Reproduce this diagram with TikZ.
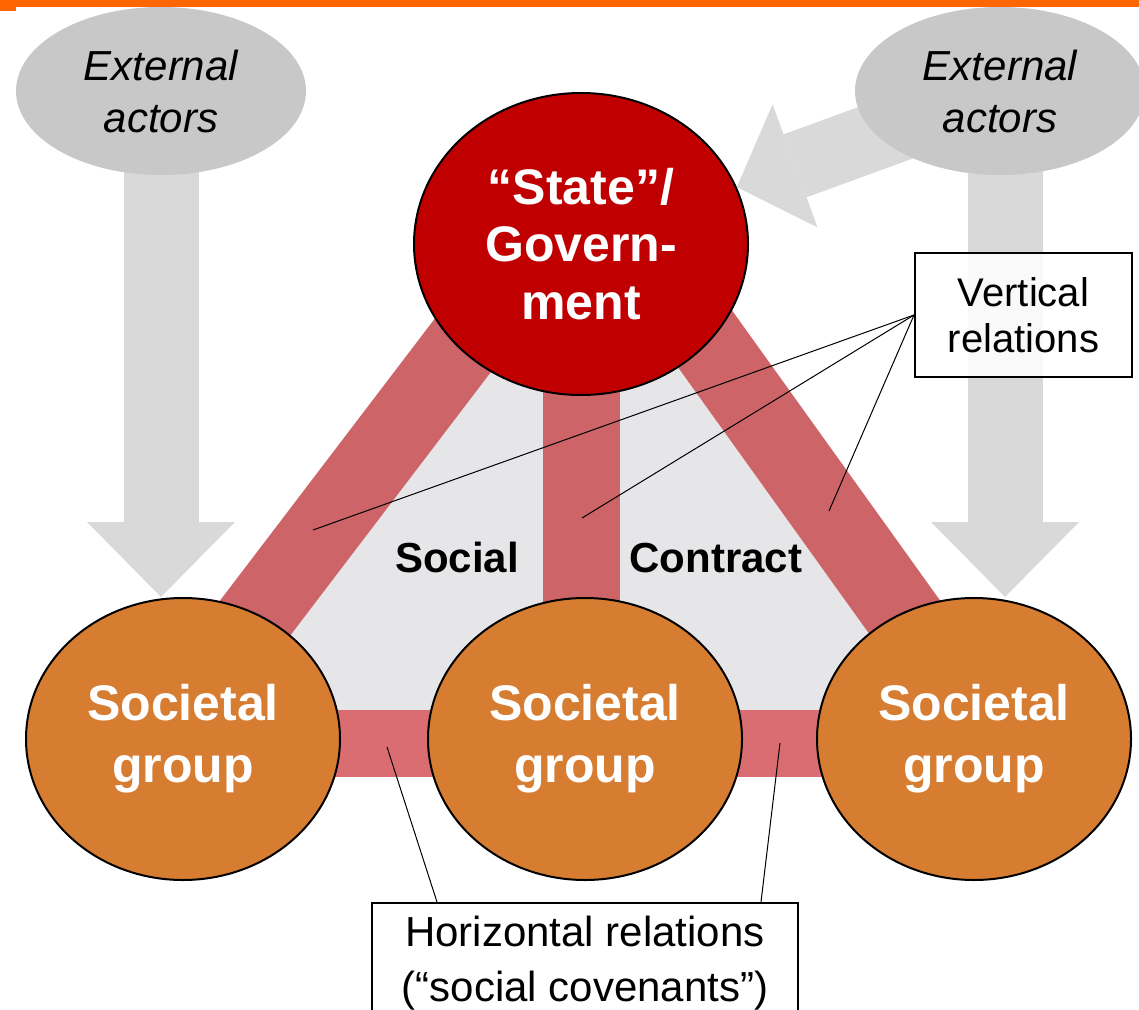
\documentclass[tikz,border=0pt]{standalone}
\usepackage{fontspec}
\setmainfont{Liberation Sans}
\usetikzlibrary{shapes.geometric,arrows.meta,calc}
\pgfdeclarelayer{background}
\pgfsetlayers{background,main}
\definecolor{stateRed}{HTML}{C00000}
\definecolor{groupOrange}{HTML}{D67D32}
\definecolor{bandRed}{HTML}{CD6467}
\definecolor{bandPink}{HTML}{DA6D72}
\definecolor{contractGray}{HTML}{E6E5E8}
\definecolor{actorGray}{HTML}{C8C8C8}
\definecolor{flowGray}{HTML}{D9D9D9}
\definecolor{topOrange}{HTML}{FF6600}

\begin{document}
\begin{tikzpicture}[x=0.5pt,y=-0.5pt]
\tikzstyle{extactor}=[ellipse, fill=actorGray, minimum width=145pt, minimum height=84pt, inner sep=0pt, align=center, font=\itshape\fontsize{21}{26}\selectfont]
\tikzstyle{govt}=[ellipse, draw=black, line width=1pt, fill=stateRed, text=white, minimum width=167pt, minimum height=151pt, inner sep=0pt, align=center, font=\bfseries\fontsize{25}{28.75}\selectfont]
\tikzstyle{group}=[ellipse, draw=black, line width=1pt, fill=groupOrange, text=white, minimum width=157pt, minimum height=141pt, inner sep=0pt, align=center, font=\bfseries\fontsize{25}{31}\selectfont]
\tikzstyle{note}=[draw=black, line width=1pt, fill=white, fill opacity=0.85, text opacity=1, inner sep=0pt, align=center]
\tikzstyle{band}=[draw=bandRed, line width=38.5pt]
\tikzstyle{hband}=[draw=bandPink, line width=33.5pt]
\tikzstyle{flow}=[draw=flowGray, line width=37.5pt, -{Triangle[width=74pt,length=37.5pt,line width=0pt]}]
\tikzstyle{callout}=[draw=black, line width=0.5pt]
\tikzstyle{word}=[anchor=base, font=\bfseries\fontsize{21}{25}\selectfont]

\useasboundingbox (0,0) rectangle (1139,1010);

% Define actors
\node[extactor] (ext1) at (161,91) {External\\actors};
\node[extactor] (ext2) at (1000,91) {External\\actors};
\node[govt] (gov) at (581,244) {“State”/\\Govern-\\ment};
\node[group] (grp1) at (183,739) {Societal\\group};
\node[group] (grp2) at (585,739) {Societal\\group};
\node[group] (grp3) at (974,739) {Societal\\group};

\node[word] (social) at (457,572) {Social};
\node[word] (contract) at (716,572) {Contract};

% Labels
\node[note, minimum width=108.5pt, minimum height=62pt, font=\fontsize{20}{23}\selectfont] (vrel) at (1023.5,315) {Vertical\\relations};
\node[note, minimum width=213pt, minimum height=60pt, font=\fontsize{21}{27.5}\selectfont] (hrel) at (585,963) {Horizontal relations\\(“social covenants”)};

\begin{pgfonlayer}{background}
% Social contract area
\fill[contractGray] ($(gov.center)+(-41,0)$) -- ($(gov.center)+(56,0)$) -- ($(grp3.center)+(18,0)$) -- ($(grp1.center)+(-20,0)$) -- cycle;

% Vertical relations
\draw[band] ($(grp1.center)+(-20,0)$) -- ($(gov.center)+(-41,0)$);
\draw[band] (gov.center) -- (gov.center |- grp2.center);
\draw[band] ($(grp3.center)+(18,0)$) -- ($(gov.center)+(56,0)$);

% Horizontal relations
\draw[hband] ($(grp1.center)+(0,4)$) -- ($(grp3.center)+(0,4)$);

% External influence
\coordinate (tail2) at ($(ext2.center)+(5,0)$);
\draw[flow] (ext1.center) -- (ext1.center |- grp1.north);
\draw[flow] (tail2) -- (tail2 |- grp3.north);
\draw[flow, line width=33.5pt, -{Triangle[width=65.5pt,length=31pt,line width=0pt]}] (ext2.center) -- (gov);
\end{pgfonlayer}

% Callout lines
\coordinate (vr1) at (313,530);
\coordinate (vr2) at (582,518);
\coordinate (vr3) at (829,511);
\coordinate (hr1) at (387,747);
\coordinate (hr2) at (780,743);
\draw[callout] (vrel.west) -- (vr1);
\draw[callout] (vrel.west) -- (vr2);
\draw[callout] (vrel.west) -- (vr3);
\draw[callout] ([xshift=33pt]hrel.north west) -- (hr1);
\draw[callout] ([xshift=-19pt]hrel.north east) -- (hr2);

% Top bar
\fill[topOrange] (0,0) rectangle (1139,7);
\fill[topOrange] (0,0) rectangle (16,11);
\end{tikzpicture}
\end{document}
